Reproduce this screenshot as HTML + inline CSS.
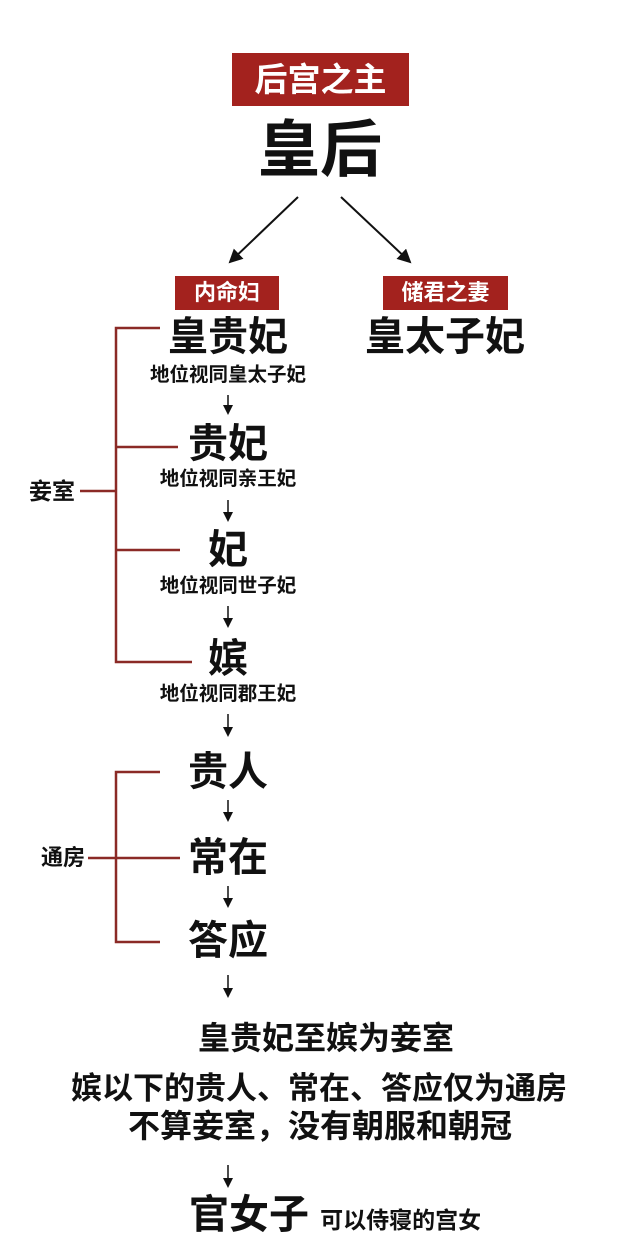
<!DOCTYPE html>
<html><head><meta charset="utf-8"><style>
html,body{margin:0;padding:0;background:#fff;}
body{width:640px;height:1233px;position:relative;overflow:hidden;font-family:"Liberation Sans","Noto Sans CJK SC",sans-serif;font-weight:bold;color:#111;}
.t{position:absolute;line-height:1;white-space:nowrap;text-align:center;}
.c{left:0;width:456px;}
.box{position:absolute;background:#a3221e;color:#fff;text-align:center;line-height:1;}
</style></head><body>
<svg width="640" height="1233" style="position:absolute;left:0;top:0">
<defs><marker id="a" markerWidth="10" markerHeight="10" refX="8" refY="5" orient="auto" markerUnits="userSpaceOnUse"><path d="M0,0 L10,5 L0,10 z" fill="#111"/></marker>
<marker id="b" markerWidth="14" markerHeight="14" refX="12" refY="7" orient="auto" markerUnits="userSpaceOnUse"><path d="M0,0 L14,7 L0,14 z" fill="#111"/></marker></defs>
<line x1="298" y1="197" x2="230" y2="262" stroke="#111" stroke-width="2" marker-end="url(#b)"/>
<line x1="341" y1="197" x2="410" y2="262" stroke="#111" stroke-width="2" marker-end="url(#b)"/>
<g stroke="#111" stroke-width="1.5" marker-end="url(#a)">
<line x1="228" y1="395" x2="228" y2="413"/>
<line x1="228" y1="500" x2="228" y2="520"/>
<line x1="228" y1="606" x2="228" y2="626"/>
<line x1="228" y1="714" x2="228" y2="735"/>
<line x1="228" y1="800" x2="228" y2="820"/>
<line x1="228" y1="886" x2="228" y2="906"/>
<line x1="228" y1="975" x2="228" y2="996"/>
<line x1="228" y1="1165" x2="228" y2="1186"/>
</g>
<g stroke="#8b2a26" stroke-width="2.5" fill="none">
<path d="M160,328 H116 V662 H192"/>
<path d="M116,447 H178 M116,550 H180 M80,491 H116"/>
<path d="M160,772 H116 V942 H160"/>
<path d="M116,858 H180 M88,858 H116"/>
</g>
</svg>
<div class="box" style="left:232px;top:53px;width:177px;height:53px;font-size:33px;line-height:53px;">后宫之主</div>
<div class="t" style="left:250px;top:120px;font-size:62px;width:140px;">皇后</div>
<div class="box" style="left:175px;top:276px;width:104px;height:34px;font-size:22px;line-height:34px;">内命妇</div>
<div class="box" style="left:383px;top:276px;width:125px;height:34px;font-size:22px;line-height:34px;">储君之妻</div>
<div class="t c" style="top:317px;font-size:40px;">皇贵妃</div>
<div class="t" style="left:360px;width:170px;top:317px;font-size:40px;">皇太子妃</div>
<div class="t c" style="top:366px;font-size:19.5px;">地位视同皇太子妃</div>
<div class="t c" style="top:424px;font-size:40px;">贵妃</div>
<div class="t c" style="top:470px;font-size:19.5px;">地位视同亲王妃</div>
<div class="t c" style="top:530px;font-size:40px;">妃</div>
<div class="t c" style="top:577px;font-size:19.5px;">地位视同世子妃</div>
<div class="t c" style="top:639px;font-size:40px;">嫔</div>
<div class="t c" style="top:685px;font-size:19.5px;">地位视同郡王妃</div>
<div class="t" style="left:29px;top:480px;font-size:23px;">妾室</div>
<div class="t c" style="top:752px;font-size:40px;">贵人</div>
<div class="t c" style="top:838px;font-size:40px;">常在</div>
<div class="t c" style="top:921px;font-size:40px;">答应</div>
<div class="t" style="left:41px;top:847px;font-size:22px;">通房</div>
<div class="t" style="left:0;width:652px;top:1022px;font-size:32px;">皇贵妃至嫔为妾室</div>
<div class="t" style="left:0;width:638px;top:1073px;font-size:31px;">嫔以下的贵人、常在、答应仅为通房</div>
<div class="t" style="left:0;width:640px;top:1110px;font-size:32px;">不算妾室，没有朝服和朝冠</div>
<div class="t" style="left:189px;top:1195px;font-size:40px;">官女子 <span style="font-size:23px;">可以侍寝的宫女</span></div>
</body></html>
